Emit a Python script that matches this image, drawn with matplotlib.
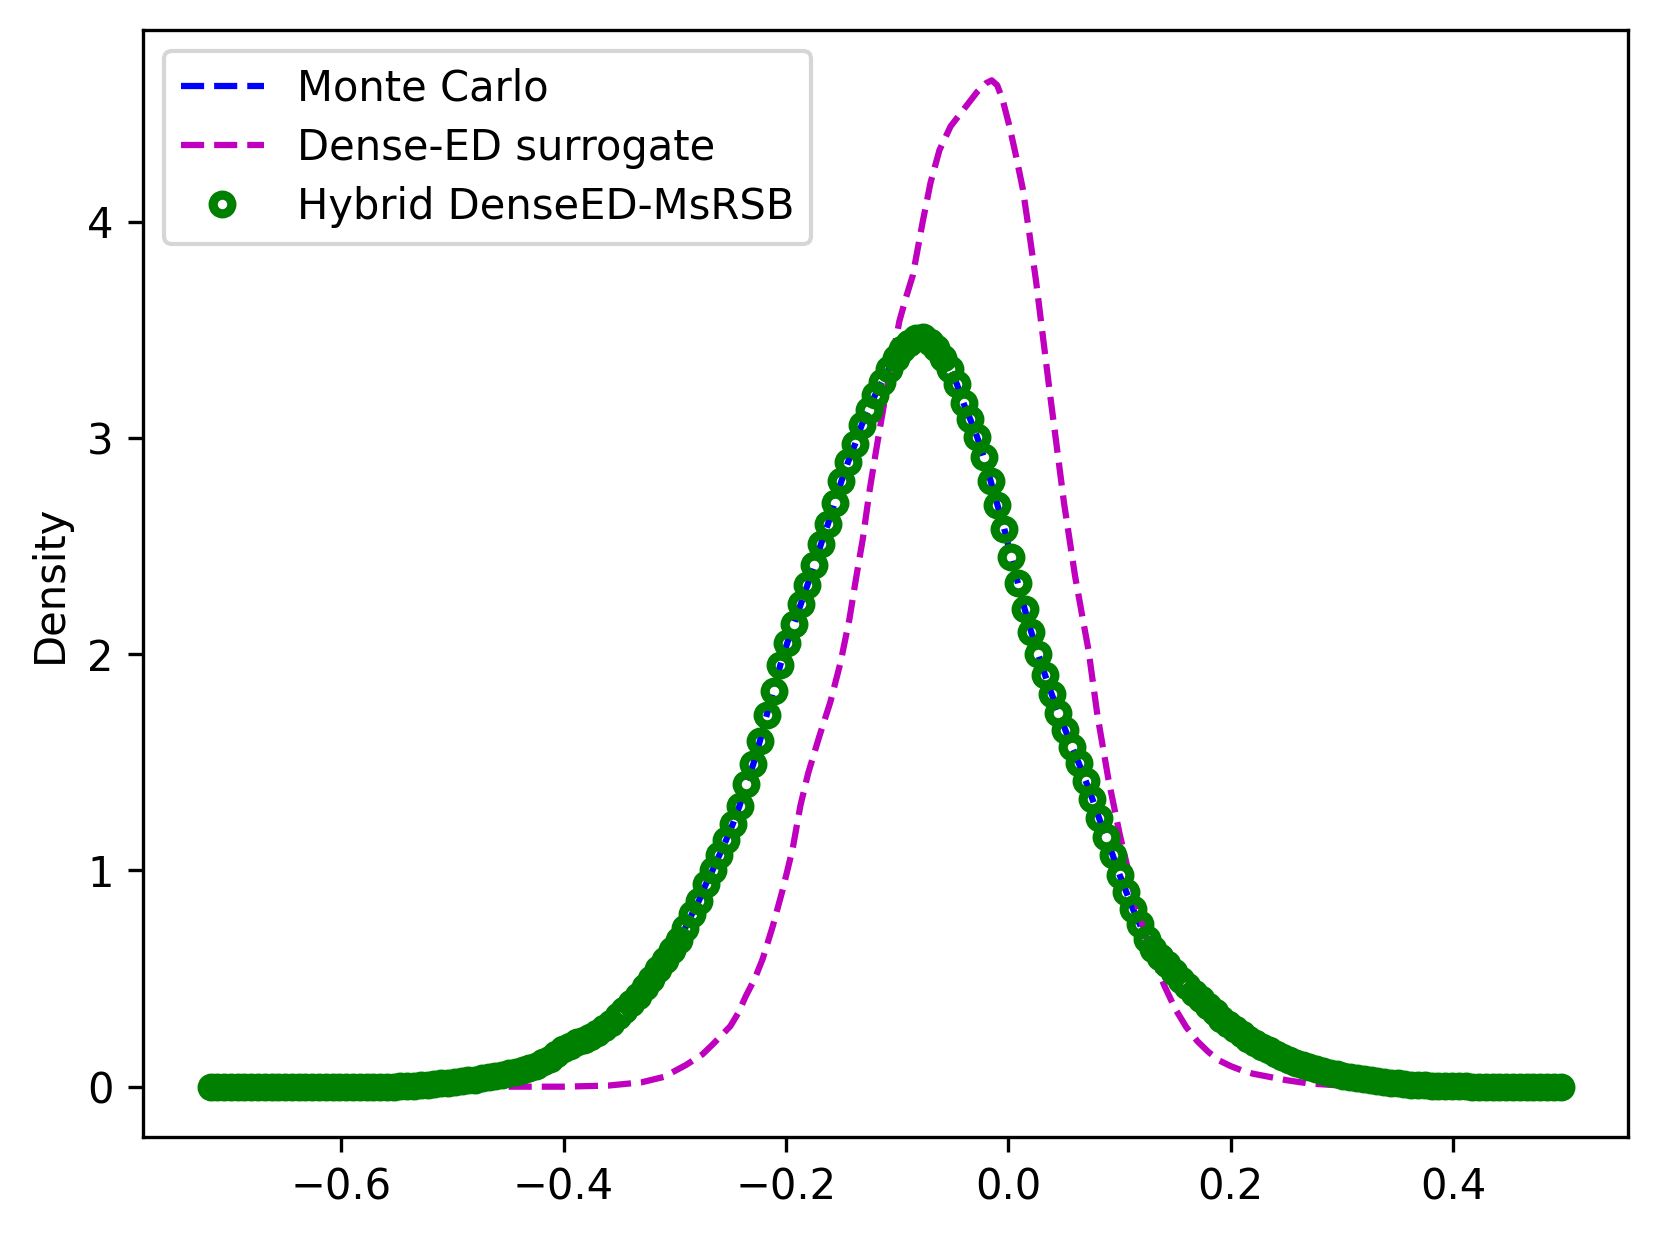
import numpy as np
import matplotlib
matplotlib.use("Agg")
import matplotlib.pyplot as plt

# KDE evaluation grid (200 points)
grid = np.linspace(-0.7175, 0.4965, 200)

# Monte Carlo density, one value per grid point
mc_density = [
    0, 0, 0, 0, 0, 0, 0, 0, 0, 0,
    0, 0, 0, 0, 0, 0, 0, 0, 0, 0,
    0, 0, 0, 0, 0, 0, 0, 0.0, 0.001, 0.003,
    0.005, 0.007, 0.009, 0.012, 0.015, 0.018, 0.021, 0.025, 0.029, 0.033,
    0.038, 0.043, 0.049, 0.055, 0.061, 0.067, 0.075, 0.085, 0.097, 0.113,
    0.13, 0.15, 0.172, 0.19, 0.205, 0.218, 0.232, 0.248, 0.27, 0.295,
    0.325, 0.355, 0.385, 0.42, 0.46, 0.50, 0.545, 0.585, 0.63, 0.68,
    0.735, 0.80, 0.86, 0.935, 1.00, 1.07, 1.14, 1.215, 1.30, 1.40,
    1.49, 1.60, 1.72, 1.83, 1.95, 2.05, 2.14, 2.23, 2.32, 2.41,
    2.51, 2.60, 2.70, 2.80, 2.89, 2.97, 3.06, 3.13, 3.20, 3.26,
    3.32, 3.37, 3.41, 3.44, 3.46, 3.465, 3.445, 3.415, 3.37, 3.32,
    3.25, 3.16, 3.085, 3.005, 2.91, 2.80, 2.69, 2.58, 2.45, 2.33,
    2.21, 2.10, 2.00, 1.905, 1.815, 1.73, 1.65, 1.57, 1.495, 1.415,
    1.33, 1.24, 1.155, 1.07, 0.98, 0.90, 0.82, 0.75, 0.685, 0.635,
    0.60, 0.565, 0.53, 0.495, 0.465, 0.435, 0.405, 0.375, 0.345, 0.315,
    0.29, 0.265, 0.243, 0.222, 0.203, 0.185, 0.168, 0.152, 0.137, 0.123,
    0.111, 0.10, 0.09, 0.081, 0.073, 0.065, 0.058, 0.051, 0.045, 0.039,
    0.034, 0.029, 0.025, 0.021, 0.018, 0.015, 0.012, 0.010, 0.008, 0.006,
    0.005, 0.004, 0.003, 0.002, 0.0015, 0.001, 0, 0, 0, 0,
    0, 0, 0, 0, 0, 0, 0, 0, 0, 0,
]

# hybrid result sits on top of the Monte Carlo curve
hybrid_density = list(mc_density)

# Dense-ED surrogate curve
dense_x = [-0.7175, -0.45, -0.40, -0.36, -0.33, -0.31, -0.29, -0.275, -0.265,
           -0.25, -0.243, -0.236, -0.228, -0.221, -0.212, -0.203, -0.194,
           -0.187, -0.18, -0.17, -0.16, -0.151, -0.143, -0.137, -0.131,
           -0.125, -0.119, -0.113, -0.105, -0.098, -0.092, -0.086, -0.077,
           -0.07, -0.062, -0.052, -0.04, -0.028, -0.02, -0.015, -0.01,
           -0.005, 0.001, 0.007, 0.013, 0.019, 0.025, 0.031, 0.037, 0.044,
           0.05, 0.06, 0.067, 0.072, 0.08, 0.09, 0.10, 0.11, 0.12, 0.13,
           0.14, 0.15, 0.16, 0.17, 0.18, 0.19, 0.20, 0.21, 0.22, 0.23,
           0.25, 0.27, 0.30, 0.33, 0.4965]
dense_y = [0.0, 0.0, 0.0, 0.005, 0.02, 0.045, 0.1, 0.15, 0.2,
           0.28, 0.34, 0.42, 0.5, 0.59, 0.74, 0.91, 1.10,
           1.30, 1.45, 1.62, 1.78, 1.96, 2.16, 2.35, 2.53,
           2.75, 2.94, 3.12, 3.35, 3.54, 3.65, 3.75, 4.0,
           4.18, 4.33, 4.44, 4.52, 4.6, 4.64, 4.653, 4.63,
           4.56, 4.44, 4.3, 4.15, 3.94, 3.72, 3.47, 3.22, 2.94,
           2.7, 2.36, 2.16, 2.02, 1.72, 1.42, 1.17, 0.95, 0.76, 0.6,
           0.47, 0.36, 0.275, 0.21, 0.16, 0.12, 0.095, 0.075, 0.06, 0.05,
           0.03, 0.015, 0.005, 0.0, 0.0]

fig = plt.figure(figsize=(1660 / 300, 1237 / 300), dpi=300)
ax = fig.add_axes([143 / 1660, 100 / 1237, 1485 / 1660, 1107 / 1237])

ax.plot(grid, mc_density, 'b--', label='Monte Carlo')
ax.plot(dense_x, dense_y, 'm--', label='Dense-ED surrogate')
ax.plot(grid, hybrid_density, 'go', mfc='none', ms=4.5, mew=2.2,
        label='Hybrid DenseED-MsRSB')

ax.set_ylabel('Density')
ax.legend(loc='upper left', borderpad=0.4, labelspacing=0.41)

fig.savefig('out.png', dpi=300)
